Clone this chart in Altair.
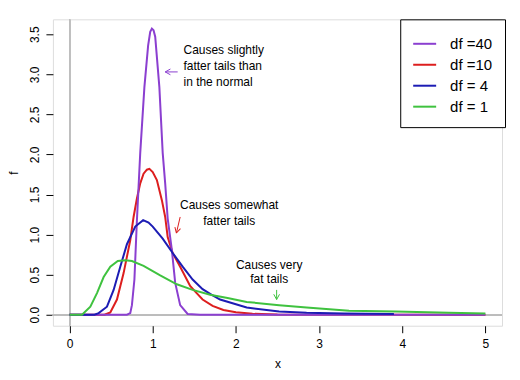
import altair as alt
import pandas as pd

# ---- data ----
df40_x = [0.0, 0.60, 0.69, 0.73, 0.75, 0.78, 0.81, 0.85, 0.90, 0.945, 0.97, 0.99, 1.01, 1.03, 1.08, 1.12, 1.15, 1.18, 1.23, 1.27, 1.33, 1.42, 1.57, 5.0]
df40_f = [0.0, 0.0, 0.0, 0.02, 0.12, 0.44, 1.18, 2.02, 2.84, 3.36, 3.53, 3.57, 3.55, 3.47, 2.84, 2.02, 1.64, 1.20, 0.81, 0.40, 0.12, 0.01, 0.0, 0.0]

df10_x = [0.0, 0.42, 0.49, 0.57, 0.65, 0.73, 0.77, 0.81, 0.85, 0.89, 0.93, 0.96, 1.00, 1.05, 1.11, 1.15, 1.18, 1.24, 1.33, 1.45, 1.52, 1.60, 1.72, 1.85, 2.0, 2.2, 2.5, 5.0]
df10_f = [0.0, 0.0, 0.03, 0.19, 0.52, 0.93, 1.22, 1.45, 1.64, 1.76, 1.81, 1.82, 1.78, 1.68, 1.43, 1.22, 0.97, 0.77, 0.60, 0.36, 0.28, 0.19, 0.11, 0.06, 0.03, 0.012, 0.004, 0.0]

df4_x = [0.0, 0.30, 0.35, 0.45, 0.53, 0.61, 0.69, 0.79, 0.885, 0.95, 1.00, 1.12, 1.24, 1.36, 1.48, 1.60, 1.69, 1.81, 2.13, 2.52, 2.85, 3.3, 3.9]
df4_f = [0.0, 0.0, 0.02, 0.10, 0.31, 0.60, 0.88, 1.10, 1.18, 1.15, 1.10, 0.95, 0.77, 0.60, 0.44, 0.32, 0.26, 0.19, 0.09, 0.04, 0.025, 0.015, 0.01]

df1_x = [0.0, 0.15, 0.25, 0.33, 0.41, 0.49, 0.58, 0.67, 0.75, 0.89, 1.09, 1.29, 1.48, 1.69, 1.90, 2.13, 2.52, 2.85, 3.36, 3.92, 4.56, 5.0]
df1_f = [0.0, 0.0, 0.10, 0.27, 0.47, 0.60, 0.67, 0.68, 0.67, 0.61, 0.49, 0.38, 0.31, 0.25, 0.21, 0.16, 0.12, 0.09, 0.05, 0.04, 0.025, 0.015]

series_labels = ["df =40", "df =10", "df = 4", "df = 1"]
series_colors = ["#8B3FD0", "#DD1E1E", "#1C1CB4", "#3FC23F"]

x_ticks = [0, 1, 2, 3, 4, 5]
y_ticks = [0.0, 0.5, 1.0, 1.5, 2.0, 2.5, 3.0, 3.5]

note_text = ["Causes slightly", "fatter tails than", "in the normal",
             "Causes somewhat", "fatter tails", "Causes very", "fat tails"]
note_x = [1.37, 1.37, 1.37, 1.92, 1.92, 2.40, 2.40]
note_y = [3.30, 3.10, 2.91, 1.37, 1.17, 0.62, 0.45]
note_left = [True, True, True, False, False, False, False]

arrow_x = [1.30, 1.33, 2.49]
arrow_y = [3.03, 1.22, 0.31]
arrow_x2 = [1.15, 1.285, 2.49]
arrow_y2 = [3.03, 1.02, 0.19]
arrow_angle = [0, 284, 270]
arrow_color = ["#8B3FD0", "#DD1E1E", "#3FC23F"]

# ---- tables ----
rows = []
for lab, xs, fs in [(series_labels[0], df40_x, df40_f), (series_labels[1], df10_x, df10_f),
                    (series_labels[2], df4_x, df4_f), (series_labels[3], df1_x, df1_f)]:
    for i, (a, b) in enumerate(zip(xs, fs)):
        rows.append({"x": a, "f": b, "df": lab, "i": i})
curves = pd.DataFrame(rows)
notes = pd.DataFrame({"x": note_x, "y": note_y, "t": note_text, "left": note_left})
arrows = pd.DataFrame({"x": arrow_x, "y": arrow_y, "x2": arrow_x2, "y2": arrow_y2,
                       "ang": arrow_angle, "c": arrow_color})

FONT = "Liberation Sans"
xscale = alt.Scale(domain=[-0.2, 5.2], nice=False, zero=False)
yscale = alt.Scale(domain=[-0.137, 3.686], nice=False, zero=False)
cscale = alt.Scale(domain=series_labels, range=series_colors)

xenc = alt.X("x:Q", scale=xscale, axis=alt.Axis(
    values=x_ticks, format="d", title="x", domain=False, grid=False,
    tickSize=7, tickColor="black", labelFontSize=12, labelPadding=6,
    labelColor="black", titleFontSize=12, titleFontWeight="normal",
    titlePadding=9, labelFont=FONT, titleFont=FONT, titleColor="black"))
yenc = alt.Y("f:Q", scale=yscale, axis=alt.Axis(
    values=y_ticks, format=".1f", title="f", domain=False, grid=False,
    tickSize=7, tickColor="black", labelFontSize=12, labelPadding=4,
    labelAngle=270, labelAlign="center", labelBaseline="bottom",
    labelColor="black", titleFontSize=12, titleFontWeight="normal",
    titlePadding=8, labelFont=FONT, titleFont=FONT, titleColor="black"))

base = alt.Chart(curves)

hline = alt.Chart(curves).mark_rule(color="#BEBEBE", strokeWidth=1).encode(y=alt.datum(0))
vline = alt.Chart(curves).mark_rule(color="#BEBEBE", strokeWidth=1).encode(x=alt.datum(0))

def curve(lab):
    return base.transform_filter(alt.datum.df == lab).mark_line(strokeWidth=2).encode(
        x=xenc, y=yenc, order="i:Q",
        color=alt.Color("df:N", scale=cscale, legend=alt.Legend(
            title=None, orient="none", legendX=348, legendY=0,
            strokeColor="black", fillColor="white", padding=12,
            symbolType="stroke", symbolSize=529, symbolStrokeWidth=2,
            labelFontSize=15, labelFont=FONT, labelOffset=13, labelColor="black",
            rowPadding=0, cornerRadius=0)))

text_left = alt.Chart(notes).transform_filter(alt.datum.left).mark_text(
    fontSize=12, font=FONT, color="black", baseline="middle", align="left").encode(
    x=alt.X("x:Q", scale=xscale), y=alt.Y("y:Q", scale=yscale), text="t:N")
text_center = alt.Chart(notes).transform_filter(~alt.datum.left).mark_text(
    fontSize=12, font=FONT, color="black", baseline="middle", align="center").encode(
    x=alt.X("x:Q", scale=xscale), y=alt.Y("y:Q", scale=yscale), text="t:N")

shafts = alt.Chart(arrows).mark_rule(strokeWidth=1).encode(
    x=alt.X("x:Q", scale=xscale), y=alt.Y("y:Q", scale=yscale),
    x2="x2:Q", y2="y2:Q", stroke=alt.Stroke("c:N", scale=None))
heads = alt.Chart(arrows).mark_point(
    shape="M0,0L1,-0.55M0,0L1,0.55", filled=False, size=110, strokeWidth=1, opacity=1).encode(
    x=alt.X("x2:Q", scale=xscale), y=alt.Y("y2:Q", scale=yscale),
    angle=alt.Angle("ang:Q", scale=None), stroke=alt.Stroke("c:N", scale=None))

chart = alt.layer(
    hline, vline,
    curve("df =10"), curve("df =40"), curve("df = 4"), curve("df = 1"),
    text_left, text_center, shafts, heads
).properties(
    width=450, height=307, autosize="none",
    padding={"left": 45, "top": 11, "right": 10, "bottom": 50}
).configure_view(stroke="black", strokeWidth=1).configure(font=FONT)

chart.save("out.html", embed_options={"renderer": "svg", "actions": False})
